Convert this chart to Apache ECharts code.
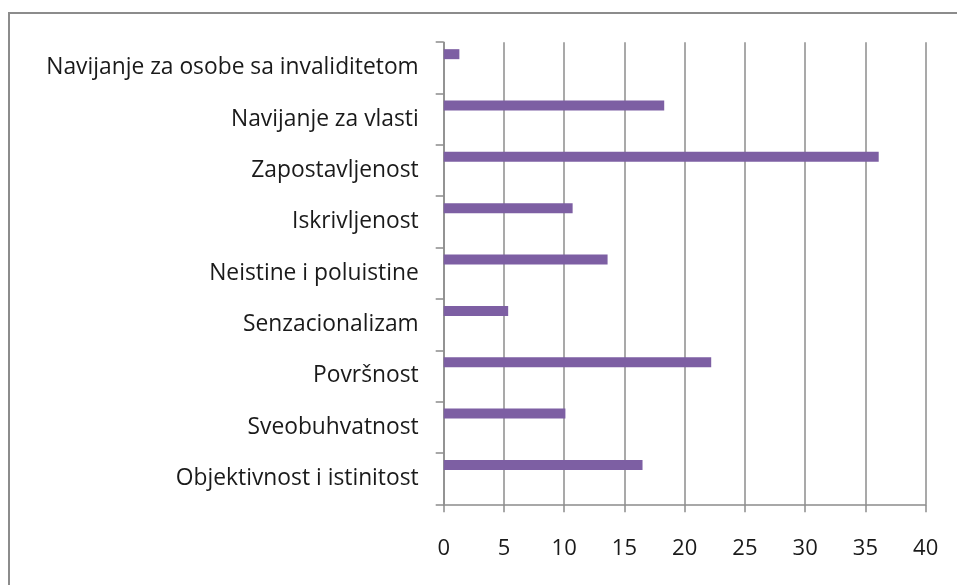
<!DOCTYPE html>
<html>
<head>
<meta charset="utf-8">
<script src="https://cdn.jsdelivr.net/npm/echarts@6/dist/echarts.min.js"></script>
<style>
html,body{margin:0;padding:0;background:#fff;}
#frame{position:absolute;left:8px;top:12px;width:960px;height:600px;border-left:2px solid #8c8c8c;border-top:2px solid #8c8c8c;}
#chart{position:absolute;left:0;top:0;width:957px;height:585px;}
</style>
</head>
<body>
<div id="frame"></div>
<div id="chart"></div>
<script>
const categories = [
  "Objektivnost i istinitost",
  "Sveobuhvatnost",
  "Površnost",
  "Senzacionalizam",
  "Neistine i poluistine",
  "Iskrivljenost",
  "Zapostavljenost",
  "Navijanje za vlasti",
  "Navijanje za osobe sa invaliditetom"
];
const values = [16.5, 10.1, 22.2, 5.35, 13.6, 10.7, 36.1, 18.3, 1.3];
const emptySeries = categories.map(() => null);
const xTicks = { min: 0, max: 40, interval: 5 };

const chart = echarts.init(document.getElementById('chart'), null, {renderer: 'canvas'});
const fontFamily = '"Open Sans", "Noto Sans", sans-serif';
chart.setOption({
  animation: false,
  backgroundColor: 'transparent',
  grid: { left: 443.7, right: 31.3, top: 42.2, bottom: 80.7, containLabel: false },
  xAxis: {
    type: 'value',
    min: xTicks.min, max: xTicks.max, interval: xTicks.interval,
    axisLine: { show: true, lineStyle: { color: '#8c8c8c', width: 1.5 } },
    axisTick: { show: true, length: 8, lineStyle: { color: '#8c8c8c', width: 1.5 } },
    splitLine: { show: true, lineStyle: { color: '#8c8c8c', width: 1.5 } },
    axisLabel: { color: '#1a1a1a', fontSize: 22, fontFamily: fontFamily, margin: 33 }
  },
  yAxis: {
    type: 'category',
    data: categories,
    axisLine: { show: true, lineStyle: { color: '#8c8c8c', width: 1.5 } },
    axisTick: { show: true, length: 8, lineStyle: { color: '#8c8c8c', width: 1.5 } },
    splitLine: { show: false },
    axisLabel: { color: '#1a1a1a', fontSize: 22.8, fontFamily: fontFamily, margin: 25, padding: [7, 0, 0, 0] }
  },
  series: [
    {
      type: 'bar',
      data: values,
      barWidth: 10,
      barGap: '174%',
      itemStyle: { color: '#7d5fa3' }
    },
    {
      type: 'bar',
      data: emptySeries,
      barWidth: 10,
      barGap: '174%'
    }
  ]
});
</script>
</body>
</html>
